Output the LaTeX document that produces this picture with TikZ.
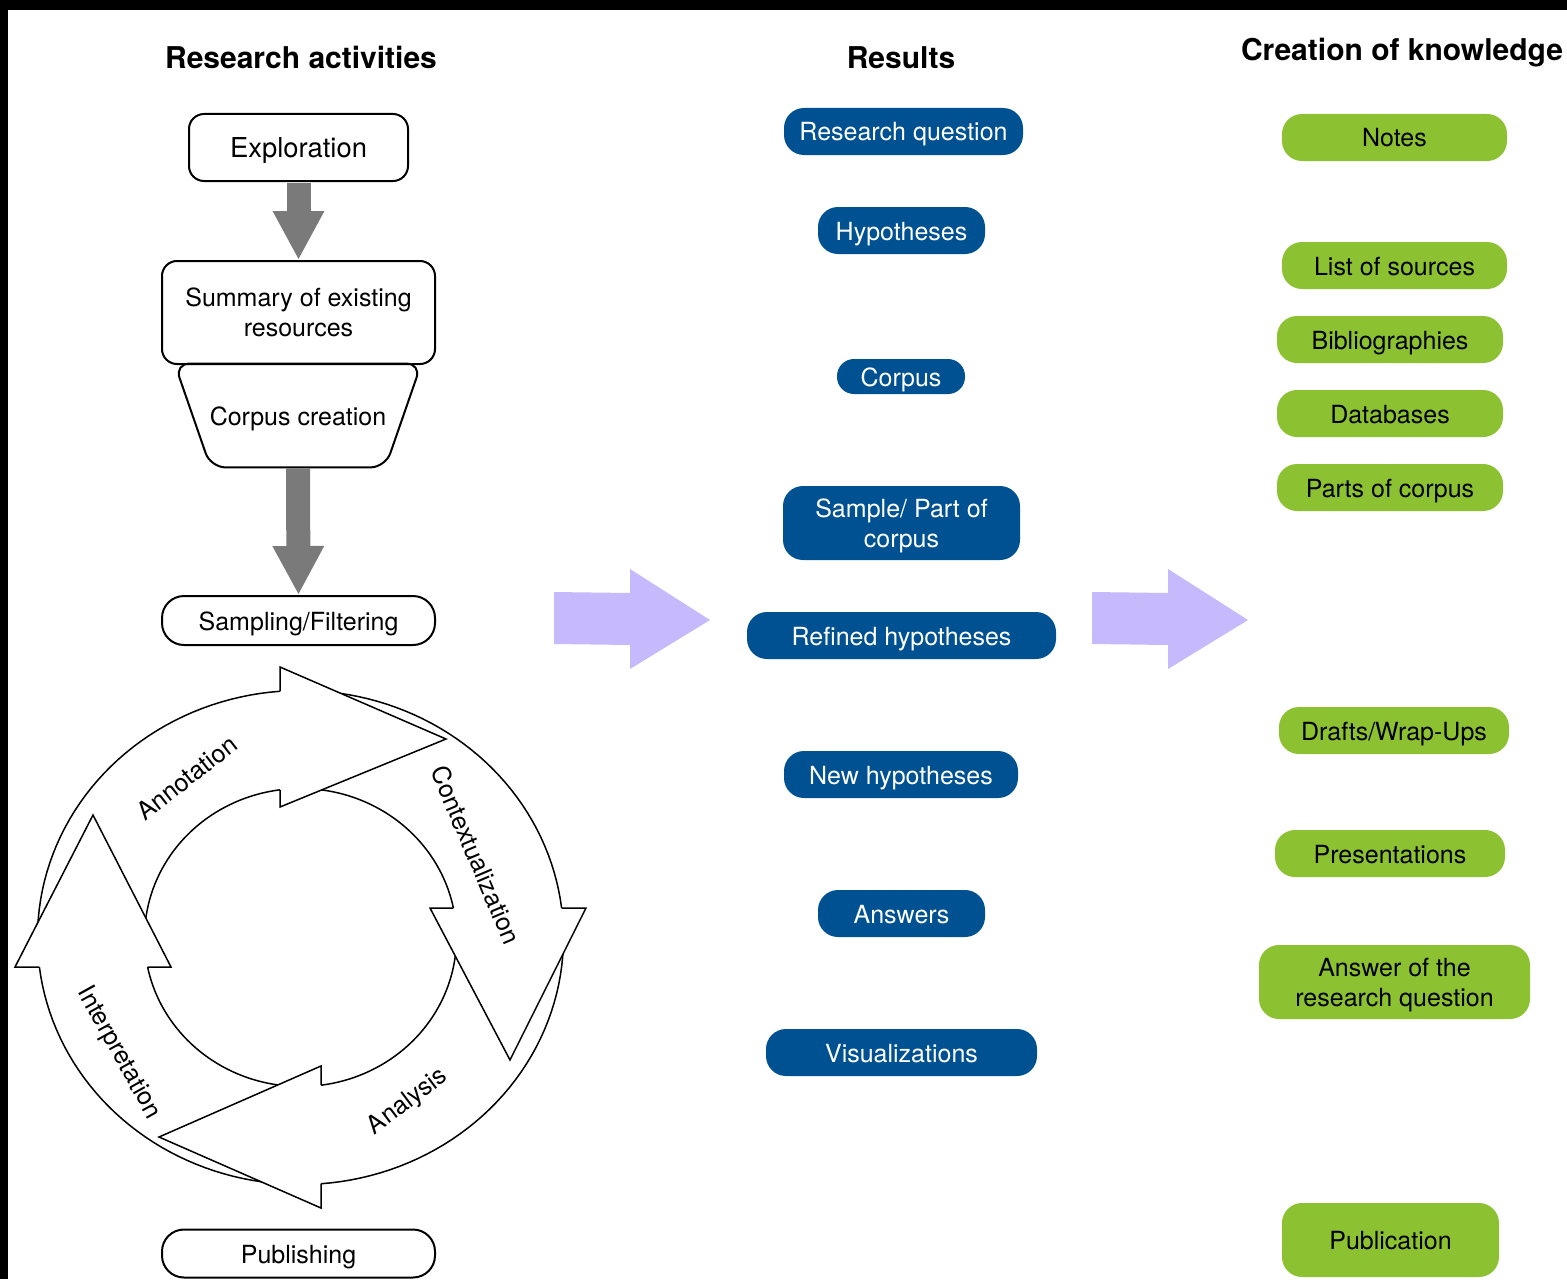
\documentclass[tikz,border=0pt]{standalone}
\usepackage{fontspec}
\setmainfont{TeX Gyre Heros}
\usepackage{tikz}
\usetikzlibrary{shapes.geometric}
\usetikzlibrary{arrows.meta}
\usetikzlibrary{positioning}
\definecolor{resblue}{RGB}{0,81,146}
\definecolor{knowgreen}{RGB}{140,193,50}
\definecolor{lavender}{RGB}{198,186,252}
\definecolor{flowgray}{RGB}{122,122,122}
\tikzstyle{oneline}=[text height=0.95em,text depth=0pt]
\tikzstyle{twolines}=[text height={},text depth=-2pt]
\tikzstyle{heading}=[oneline,font=\bfseries\fontsize{15}{18}\selectfont]
\tikzstyle{activity}=[oneline,rectangle,draw=black,line width=1pt,fill=white,rounded corners=7.5pt,inner sep=0pt,align=center]
\tikzstyle{result}=[oneline,rectangle,fill=resblue,text=white,rounded corners=10pt,inner sep=0pt,minimum height=23.5pt,align=center]
\tikzstyle{knowledge}=[oneline,rectangle,fill=knowgreen,rounded corners=10pt,inner sep=0pt,minimum height=23.5pt,align=center]
\tikzstyle{downarrow}=[draw=flowgray,line width=12pt,-{Triangle[length=24.5pt,width=24pt]}]
\tikzstyle{ring}=[line width=0.75pt]
\tikzset{every picture/.style={x=0.5pt,y=-0.5pt},
  every node/.style={font=\fontsize{12.5}{15}\selectfont}}

\begin{document}
\begin{tikzpicture}
  \useasboundingbox (0,0) rectangle (1567,1279);
  \fill[black] (0,0) rectangle (1567,10);
  \fill[black] (0,0) rectangle (8,1279);

  % headings
  \node[heading] at (301,59) (hact) {Research activities};
  \node[heading] at (901,59) (hres) {Results};
  \node[heading] at (1402,51) (hknow) {Creation of knowledge};

  % research activities
  \node[activity, font=\fontsize{13.7}{16}\selectfont, minimum width=109.5pt, minimum height=33.5pt] at (298.5,147.5) (explor) {Exploration};
  \node[activity, twolines, minimum width=136.5pt, minimum height=51.5pt] at (298.5,312.5) (summary) {Summary of existing\\resources};
  \node[oneline, inner sep=0pt, minimum width=123pt, minimum height=51.5pt] at (298,415.5) (corpuscr) {Corpus creation};
  \draw[line width=1pt, rounded corners=7.5pt] (corpuscr.north west) -- (corpuscr.north east)
    -- ([xshift=-18pt]corpuscr.south east) -- ([xshift=18pt]corpuscr.south west) -- cycle;
  \node[activity, rounded corners=11pt, minimum width=136.5pt, minimum height=24.5pt] at (298.5,620.5) (sampling) {Sampling/Filtering};
  \node[activity, rounded corners=11pt, minimum width=136.5pt, minimum height=24pt] at (298.5,1253.5) (publishing) {Publishing};
  \draw[downarrow, shorten <=0.5pt] (explor.south) -- (summary.north);
  \draw[downarrow, shorten <=0.5pt] (corpuscr.south) -- (sampling.north);

  % cycle of four block arrows
  \begin{scope}[shift={(300.5,937.5)}]
    \foreach \a/\b/\c in {180/265.53/262.45, 270/353.14/348.58, 0/85.53/82.45, 90/173.14/168.58} {
      \fill[white] plot[domain=\a:\b,samples=40] ({263*cos(\x)},{247*sin(\x)})
        -- plot[domain=\c:\a,samples=40] ({156*cos(\x)},{149*sin(\x)}) -- cycle;
      \draw[ring] plot[domain=\a:\b,samples=40] ({263*cos(\x)},{247*sin(\x)});
      \draw[ring] plot[domain=\c:\a,samples=40] ({156*cos(\x)},{149*sin(\x)});
    }
    \filldraw[ring,fill=white] (-20.5,-246.2) -- (-20.5,-270.5) -- (145.5,-198.5) -- (-20.5,-130.5) -- (-20.5,-147.7);
    \filldraw[ring,fill=white] (261.1,-29.5) -- (285.5,-29.5) -- (209.5,122.5) -- (129.5,-29.5) -- (152.9,-29.5);
    \filldraw[ring,fill=white] (20.5,246.2) -- (20.5,270.5) -- (-141.5,199.5) -- (20.5,128.5) -- (20.5,147.7);
    \filldraw[ring,fill=white] (-261.1,29.5) -- (-285.5,29.5) -- (-207.5,-122.5) -- (-129.5,29.5) -- (-152.9,29.5);
  \end{scope}
  \node[rotate=38] at (186.5,778) (annot) {Annotation};
  \node[rotate=-67] at (476,855) (context) {Contextualization};
  \node[rotate=37] at (408,1102) (analysis) {Analysis};
  \node[rotate=-61] at (118.5,1053) (interp) {Interpretation};

  % big arrows between the columns
  \fill[lavender] (554,592) -- (630,593) -- (630,569) -- (710,620) -- (630,669) -- (630,645) -- (554,644) -- cycle;
  \fill[lavender] (1092,592) -- (1168,593) -- (1168,569) -- (1248,620) -- (1168,669) -- (1168,645) -- (1092,644) -- cycle;

  % results
  \node[result, minimum width=119.5pt] at (903.5,131.5) (rq) {Research question};
  \node[result, minimum width=83.5pt] at (901.5,230.5) (hyp) {Hypotheses};
  \node[result, minimum width=64pt, minimum height=17.5pt, rounded corners=8.5pt] at (901,376.5) (corpus) {Corpus};
  \node[result, twolines, minimum width=118.5pt, minimum height=37pt] at (901.5,523) (sample) {Sample/ Part of\\corpus};
  \node[result, minimum width=154.5pt] at (901.5,635.5) (refined) {Refined hypotheses};
  \node[result, minimum width=117pt] at (901,774.5) (newhyp) {New hypotheses};
  \node[result, minimum width=83.5pt] at (901.5,913.5) (answers) {Answers};
  \node[result, minimum width=135.5pt] at (901.5,1052.5) (vis) {Visualizations};

  % creation of knowledge
  \node[knowledge, minimum width=112.5pt] at (1394.5,137.5) (notes) {Notes};
  \node[knowledge, minimum width=112.5pt] at (1394.5,265.5) (sources) {List of sources};
  \node[knowledge, minimum width=113pt] at (1390,339.5) (biblio) {Bibliographies};
  \node[knowledge, minimum width=113pt] at (1390,413.5) (dbs) {Databases};
  \node[knowledge, minimum width=113pt] at (1390,487.5) (parts) {Parts of corpus};
  \node[knowledge, minimum width=115pt] at (1394,730.5) (drafts) {Drafts/Wrap-Ups};
  \node[knowledge, minimum width=115pt] at (1390,853.5) (present) {Presentations};
  \node[knowledge, twolines, minimum width=135.5pt, minimum height=37pt] at (1394.5,982) (answer) {Answer of the\\research question};
  \node[knowledge, minimum width=108.5pt, minimum height=37pt] at (1390.5,1240) (publication) {Publication};
\end{tikzpicture}
\end{document}
